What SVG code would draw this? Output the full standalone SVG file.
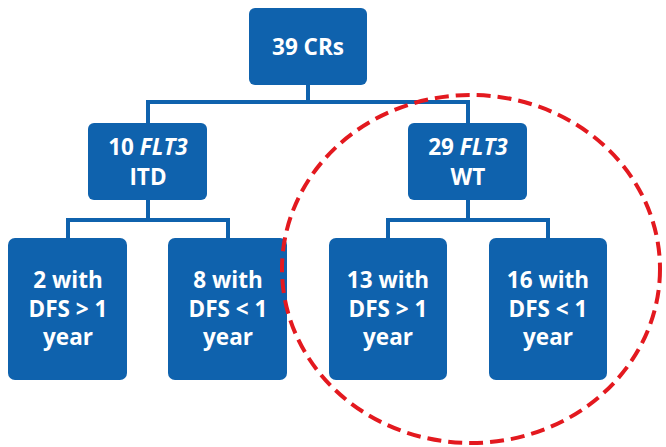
<svg xmlns="http://www.w3.org/2000/svg" width="666" height="447" viewBox="0 0 666 447">
<style>
.box{fill:#0f62ad;}
.t{fill:#ffffff;font-family:"Open Sans","Liberation Sans",sans-serif;font-weight:bold;font-size:22.5px;text-anchor:middle;}
.c{fill:none;stroke:#0f62ad;stroke-width:4;}
</style>
<rect width="666" height="447" fill="#ffffff"/>
<g id="connectors">
<path class="c" d="M308 85 V102 M148 123 V102 H468 V123"/>
<path class="c" d="M148 200 V220 M68 238 V220 H228 V238"/>
<path class="c" d="M468 200 V220 M388 238 V220 H548 V238"/>
</g>
<g id="n39">
<rect class="box" x="249" y="8" width="118" height="77" rx="6"/>
<text class="t" x="308" y="55">39 CRs</text>
</g>
<g id="nITD">
<rect class="box" x="88" y="123" width="119" height="77" rx="6"/>
<text class="t" x="148" y="155">10 <tspan font-style="italic">FLT3</tspan></text>
<text class="t" x="148" y="185">ITD</text>
</g>
<g id="nWT">
<rect class="box" x="408" y="123" width="119" height="77" rx="6"/>
<text class="t" x="468" y="155">29 <tspan font-style="italic">FLT3</tspan></text>
<text class="t" x="468" y="185">WT</text>
</g>
<g id="n2">
<rect class="box" x="8" y="238" width="119" height="142" rx="7"/>
<text class="t" x="68" y="288">2 with</text>
<text class="t" x="68" y="317">DFS &gt; 1</text>
<text class="t" x="68" y="345">year</text>
</g>
<g id="n8">
<rect class="box" x="168" y="238" width="119" height="142" rx="7"/>
<text class="t" x="228" y="288">8 with</text>
<text class="t" x="228" y="317">DFS &lt; 1</text>
<text class="t" x="228" y="345">year</text>
</g>
<g id="n13">
<rect class="box" x="329" y="238" width="118" height="142" rx="7"/>
<text class="t" x="388" y="288">13 with</text>
<text class="t" x="388" y="317">DFS &gt; 1</text>
<text class="t" x="388" y="345">year</text>
</g>
<g id="n16">
<rect class="box" x="489" y="238" width="118" height="142" rx="7"/>
<text class="t" x="548" y="288">16 with</text>
<text class="t" x="548" y="317">DFS &lt; 1</text>
<text class="t" x="548" y="345">year</text>
</g>
<ellipse cx="471" cy="269" rx="189" ry="174" fill="none" stroke="#e3191f" stroke-width="4" stroke-dasharray="14 7"/>
</svg>
